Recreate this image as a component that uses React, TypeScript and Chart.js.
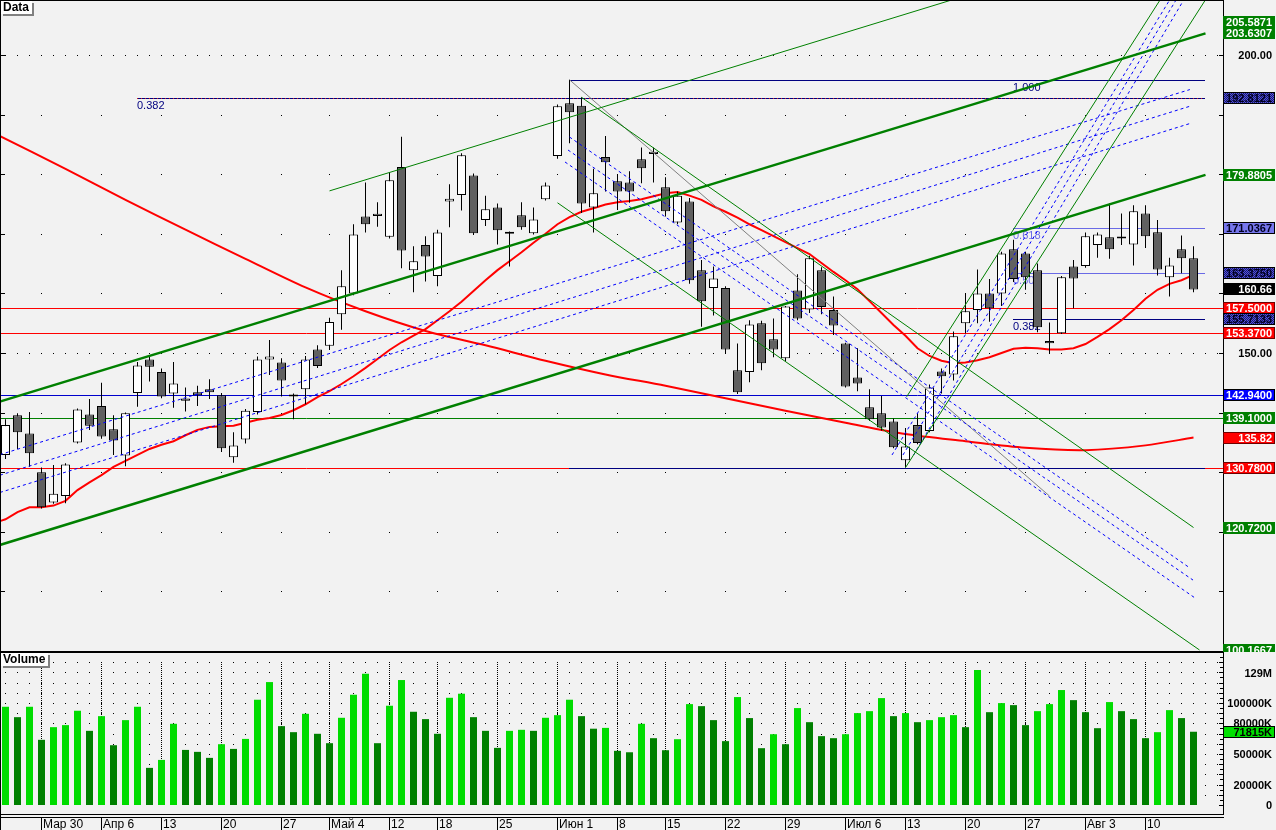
import React, { useEffect, useRef } from "react";
import { Chart, registerables } from "chart.js";
Chart.register(...registerables);

// ---------------- DATA ----------------
const OPEN = [132.9,139.55,136.5,130.0,124.9,126.0,135.0,139.7,141.1,137.2,132.8,143.3,148.9,146.8,143.2,142.0,143.4,143.9,142.9,132.5,135.5,140.1,148.9,148.4,142.7,143.9,150.6,151.2,156.5,160.0,172.9,173.0,169.5,181.2,163.9,168.1,162.9,175.4,176.5,179.8,172.3,174.4,170.35,173.1,170.1,175.8,183.05,191.9,191.5,174.4,182.9,178.8,178.6,182.5,183.4,177.8,171.9,175.4,163.9,160.9,160.9,147.1,146.8,155.0,152.3,149.1,160.5,157.3,163.9,157.2,151.6,145.9,140.9,139.9,138.5,132.0,137.9,136.9,146.9,146.4,155.0,157.2,160.0,160.0,167.4,166.7,163.9,152.0,153.3,164.5,164.6,168.1,169.4,169.2,168.2,173.4,170.25,162.7,167.4,165.9];
const HIGH = [138.9,139.9,140.1,130.8,131.2,131.5,140.7,142.3,145.0,139.55,140.0,148.5,149.5,147.4,148.5,144.2,144.5,145.6,143.3,136.7,140.6,149.4,152.2,149.1,143.2,149.5,151.3,155.9,163.9,171.6,178.6,175.3,180.3,186.3,167.9,169.6,170.7,178.3,183.5,180.1,176.4,175.1,170.4,175.3,174.4,178.6,191.7,195.84,192.9,180.9,186.4,180.0,180.5,184.5,184.5,179.5,177.1,176.0,165.6,164.5,161.2,151.6,155.5,155.4,155.8,157.9,163.2,166.3,164.4,159.5,151.7,150.8,143.9,142.8,139.0,137.4,139.9,144.7,147.4,153.6,160.0,164.0,162.4,167.0,169.0,167.0,165.0,155.1,162.9,165.6,170.2,170.2,175.1,173.4,174.8,174.8,172.3,166.0,169.7,167.9];
const LOW = [132.2,133.9,130.9,123.9,124.7,124.8,134.8,137.1,135.6,132.9,131.0,141.0,145.2,142.4,140.8,140.2,141.1,142.3,133.4,131.6,134.8,139.7,146.3,142.7,138.9,141.4,147.5,150.5,153.9,159.7,170.2,171.2,169.2,164.2,160.2,162.0,161.2,171.1,173.9,169.8,171.3,168.2,164.5,170.7,169.9,175.6,182.6,185.2,173.5,170.2,177.1,174.0,175.2,178.5,178.6,172.9,171.6,161.6,154.4,156.3,149.9,143.1,145.1,147.1,149.3,148.6,155.5,156.7,156.5,153.0,144.2,143.6,138.6,137.0,134.0,130.78,134.7,136.7,143.2,145.4,153.3,155.0,155.25,157.9,161.9,160.6,153.5,149.95,153.2,157.5,164.3,166.0,165.8,168.1,164.7,167.6,163.0,159.5,163.4,160.2];
const CLOSE = [137.9,136.7,133.2,124.1,126.4,131.3,140.5,137.8,136.0,135.3,139.9,147.9,147.7,142.7,144.9,142.35,142.9,143.4,134.0,134.5,140.3,148.9,149.4,145.4,143.05,148.9,147.8,155.2,161.2,169.9,171.6,173.35,179.0,167.2,165.4,166.2,170.2,175.9,183.2,170.1,174.1,170.6,170.0,171.1,172.4,178.1,191.4,190.4,175.1,176.8,182.0,177.1,177.1,181.0,183.75,173.8,176.4,162.2,158.7,162.5,150.6,143.4,154.8,148.3,150.6,157.8,155.8,165.9,157.7,154.6,144.4,144.9,138.9,137.5,134.2,134.3,134.9,144.2,146.1,152.8,157.0,160.0,157.5,166.7,162.4,162.7,154.3,151.65,162.7,162.5,169.6,169.9,167.4,169.55,173.8,169.6,164.0,164.7,165.9,160.66];
const VOLUME_M = [96.3,86.1,96.3,63.9,76.3,78.3,92.4,72.7,87.1,58.6,83.2,96.3,36.4,44.2,79.6,54.0,52.1,46.2,59.6,55.0,64.8,103.2,120.5,77.3,71.4,89.4,69.8,60.6,85.5,108.1,128.7,60.6,97.3,122.5,91.4,84.2,69.8,105.1,109.1,86.1,72.7,56.0,72.7,73.7,72.7,85.5,88.1,103.2,87.1,74.8,75.6,53.1,51.7,79.6,65.5,53.7,64.5,98.9,96.9,83.2,62.6,105.8,85.2,55.7,69.4,59.6,95.0,81.2,67.5,65.5,69.4,90.1,92.0,104.8,87.1,90.1,81.2,83.2,86.1,88.1,76.3,132.3,91.0,99.9,97.9,78.3,92.0,98.9,112.7,102.8,91.0,75.3,100.9,92.0,84.2,65.5,71.4,93.0,85.2,71.815];
// moving averages (value at each bar; the fast one also has a value at the left edge)
const FAST_MA_EDGE = 121.8;
const FAST_MA = [122.1,123.3,124.1,124.1,124.4,125.2,127.0,128.3,129.5,130.9,131.9,132.9,133.9,134.6,135.2,136.2,137.1,137.6,137.7,137.8,138.3,138.8,139.1,139.6,140.4,141.4,142.6,143.6,144.8,146.1,147.5,149.0,150.5,151.8,152.9,154.0,155.5,157.0,158.6,160.4,162.2,163.9,165.4,166.9,168.5,170.0,171.6,172.8,173.7,174.3,174.9,175.3,175.5,175.8,176.3,176.8,177.0,176.4,175.7,174.6,173.7,172.7,171.6,170.6,169.6,168.6,167.6,166.6,165.1,163.6,162.2,160.7,158.7,156.7,154.7,152.9,150.8,149.5,148.7,148.3,148.4,148.8,149.3,150.0,150.7,150.9,150.8,150.6,150.6,150.8,151.5,152.7,154.0,155.5,157.2,159.1,160.6,161.6,162.2,163.1];
const SLOW_MA_IDX = [-0.46,5,10,15,20,25,30,35,40,45,50,55,60,65,70,75,80,85,90,95,99];
const SLOW_MA = [186.4,180.9,175.7,170.7,165.8,161.0,157.0,153.7,151.3,148.7,146.4,144.5,142.4,140.3,138.3,136.4,135.2,134.1,133.7,134.5,135.82];

const WEEK_IDX = [3,8,13,18,23,27,32,36,41,46,51,55,60,65,70,75,80,85,90,95];
const WEEK_LABELS = ["Мар 30","Апр 6","13","20","27","Май 4","12","18","25","Июн 1","8","15","22","29","Июл 6","13","20","27","Авг 3","10"];
const PRICE_GRID = [110,120,130,140,150,160,170,180,190,200];
const PRICE_LABEL_VALUES = [150,200];
const PRICE_LABEL_TEXT = ["150.00","200.00"];
const VOL_GRID = [10,20,30,40,50,60,70,80,90,100,110,120,130,140];
const VOL_LABEL_VALUES = [129,100,80,50,20,0];
const VOL_LABEL_TEXT = ["129M","100000K","80000K","50000K","20000K","0"];
const VOL_LAST = 71.815;
const VOL_LAST_TEXT = "71815K";

// trend lines: [index0, price0, index1, price1]
const GREEN_THICK = [[-0.46,117.8,100,179.88],[-0.46,141.85,100,203.63]];
const GREEN_THIN = [[27,177.2,100,222.3],[48,192.9,99,120.72],[46,175.2,99.5,100.17],[75.1,142.67,97.09,212],[75,130.78,100.87,212]];
const BLUE_DASHED = [[-0.46,132.95,98.7,194.2],[-0.46,129.5,98.7,191.4],[-0.46,126.6,98.7,188.5],[47,186.24,98.7,113.93],[46.875,184.06,98.96,111.9],[46.625,182.05,99.125,108.9],[73.875,132.89,97.85,212],[74.79,132.89,98.37,212],[75.675,132.89,99.0,212]];
const GRAY_THIN = [[47,195.84,87,126.0]];

// horizontal levels
const H_LEVELS = [157.5,153.37,142.94,139.1,130.78];
const H_COLORS = ["#ff0000","#ff0000","#0000cc","#008000","#ff0000"];
const FIB_LEVELS = [195.84,192.8121,171.0367,163.375,155.7133,130.78];
const FIB_FROM = [47,11,84,84,84,47];
const FIB_TEXT_AT = [84,11,84,84,84,84];
const FIB_TO = 100;
const FIB_TEXT = ["1.000","0.382","0.618","0.500","0.382",""];
const FIB_COLORS = ["#000080","#000080","#6a6ae6","#6a6ae6","#000080","#000080"];

// right-side value boxes
const BOX_VALUES = [205.5871,203.6307,192.8121,179.8805,171.0367,163.375,160.66,157.5,155.7133,153.37,142.94,139.1,135.82,130.78,120.72,100.1667];
const BOX_TEXT = ["205.5871","203.6307","192.8121","179.8805","171.0367","163.3750","160.66","157.5000","155.7133","153.3700","142.9400","139.1000","135.82","130.7800","120.7200","100.1667"];
const BOX_KIND = ["green","green","pat","green","slate","pat","black","red","pat","red","blue","green","red","red","green","green"];

// ---------------- LAYOUT CONSTANTS ----------------
const X_MIN = -0.375;
const X_MAX = 101.4583;
const P_MIN = 100.0;
const P_MAX = 209.06;
const V_MIN = -8.82;
const V_MAX = 149.0;
const AXIS_X = 1223;
const FONT_B = 'bold 11px "Liberation Sans", Arial, sans-serif';
const FONT_T = 'bold 12px "Liberation Sans", Arial, sans-serif';
const FONT_R = '11px "Liberation Sans", Arial, sans-serif';
const FONT_D = '12px "Liberation Sans", Arial, sans-serif';

function seg(s: number[], color: string, width: number, dash: number[] = []) {
  return {
    type: "line",
    data: [{ x: s[0], y: s[1] }, { x: s[2], y: s[3] }],
    borderColor: color,
    borderWidth: width,
    borderDash: dash,
    pointRadius: 0,
    fill: false,
    tension: 0,
    order: 0,
  };
}

let patCache: any = null;
function bluePattern(ctx: CanvasRenderingContext2D) {
  if (patCache) return patCache;
  const c = document.createElement("canvas");
  c.width = 2; c.height = 2;
  const g = c.getContext("2d")!;
  g.fillStyle = "#5252e0"; g.fillRect(0, 0, 2, 2);
  g.fillStyle = "#1c1c6a"; g.fillRect(0, 0, 1, 1); g.fillRect(1, 1, 1, 1);
  patCache = ctx.createPattern(c, "repeat");
  return patCache;
}

function labelBox(ctx: CanvasRenderingContext2D, yc: number, text: string, fill: any, color: string, border: string | null) {
  const top = Math.round(yc) - 6;
  ctx.fillStyle = fill;
  ctx.fillRect(AXIS_X, top, 52, 12);
  if (border) {
    ctx.strokeStyle = border; ctx.lineWidth = 1;
    ctx.strokeRect(AXIS_X + 0.5, top + 0.5, 51, 11);
  }
  ctx.fillStyle = color; ctx.font = FONT_B; ctx.textAlign = "right"; ctx.textBaseline = "middle";
  ctx.fillText(text, 1272, top + 6.5);
}

function tagBox(ctx: CanvasRenderingContext2D, x: number, y: number, text: string) {
  ctx.font = FONT_T;
  const w = Math.ceil(ctx.measureText(text).width) + 4;
  ctx.fillStyle = "#808080"; ctx.fillRect(x + 2, y + 2, w, 13);
  ctx.fillStyle = "#ffffff"; ctx.fillRect(x, y, w, 13);
  ctx.fillStyle = "#000"; ctx.textAlign = "left"; ctx.textBaseline = "middle";
  ctx.fillText(text, x + 2, y + 7);
}

const pricePlugin = {
  id: "pricePane",
  beforeDraw(chart: any) {
    const ctx = chart.ctx;
    ctx.save(); ctx.fillStyle = "#f2f2f2"; ctx.fillRect(0, 0, chart.width, chart.height); ctx.restore();
  },
  beforeDatasetsDraw(chart: any) {
    const ctx = chart.ctx; const xs = chart.scales.x; const ys = chart.scales.y;
    ctx.save();
    ctx.fillStyle = "#000";
    PRICE_GRID.forEach((v) => {
      const y = Math.round(ys.getPixelForValue(v));
      if (PRICE_LABEL_VALUES.includes(v)) {
        for (let i = 0; i <= 101; i++) ctx.fillRect(Math.floor(xs.getPixelForValue(i)), y, 1, 1);
      } else {
        WEEK_IDX.forEach((i) => ctx.fillRect(Math.floor(xs.getPixelForValue(i)), y, 1, 1));
      }
      ctx.fillRect(1, y, 4, 1);
      ctx.fillRect(AXIS_X - 4, y, 4, 1);
    });
    const x0 = xs.getPixelForValue(X_MIN), x1 = xs.getPixelForValue(X_MAX);
    H_LEVELS.forEach((v, k) => {
      const y = Math.round(ys.getPixelForValue(v)) + 0.5;
      ctx.strokeStyle = H_COLORS[k]; ctx.lineWidth = 1; ctx.setLineDash([]);
      ctx.beginPath(); ctx.moveTo(x0, y); ctx.lineTo(x1, y); ctx.stroke();
    });
    FIB_LEVELS.forEach((v, k) => {
      const y = Math.round(ys.getPixelForValue(v)) + 0.5;
      const a = Math.floor(xs.getPixelForValue(FIB_FROM[k])), b = Math.floor(xs.getPixelForValue(FIB_TO));
      ctx.lineWidth = 1; ctx.setLineDash([]);
      ctx.strokeStyle = FIB_COLORS[k];
      ctx.beginPath(); ctx.moveTo(a, y); ctx.lineTo(b, y); ctx.stroke();
      if (k === 1) {
        ctx.fillStyle = "#d02020";
        for (let x = a; x < b; x += 4) ctx.fillRect(x, y - 0.5, 1, 1);
      }
      if (FIB_TEXT[k]) {
        const tx = Math.floor(xs.getPixelForValue(FIB_TEXT_AT[k]));
        ctx.fillStyle = FIB_COLORS[k]; ctx.font = FONT_R; ctx.textAlign = "left"; ctx.textBaseline = "top";
        ctx.fillText(FIB_TEXT[k], tx, y + 1.5);
      }
    });
    ctx.restore();
  },
  afterDraw(chart: any) {
    const ctx = chart.ctx; const ys = chart.scales.y;
    ctx.save();
    ctx.fillStyle = "#000";
    ctx.fillRect(0, 0, AXIS_X, 1);
    ctx.fillRect(0, 0, 1, chart.height);
    ctx.fillRect(AXIS_X, 0, 1, chart.height);
    ctx.fillRect(0, chart.height - 1, AXIS_X + 1, 1);
    ctx.font = FONT_B; ctx.textAlign = "right"; ctx.textBaseline = "middle"; ctx.fillStyle = "#000";
    PRICE_LABEL_VALUES.forEach((v, k) => ctx.fillText(PRICE_LABEL_TEXT[k], 1272, Math.round(ys.getPixelForValue(v)) + 0.5));
    const pat = bluePattern(ctx);
    BOX_VALUES.forEach((v, k) => {
      const y = ys.getPixelForValue(v);
      const kind = BOX_KIND[k];
      if (kind === "green") labelBox(ctx, y, BOX_TEXT[k], "#008000", "#ffffff", null);
      else if (kind === "pat") labelBox(ctx, y, BOX_TEXT[k], pat, "#000020", "#000000");
      else if (kind === "slate") labelBox(ctx, y, BOX_TEXT[k], "#7676ec", "#000020", "#000000");
      else if (kind === "black") labelBox(ctx, y, BOX_TEXT[k], "#000000", "#ffffff", null);
      else if (kind === "red") labelBox(ctx, y, BOX_TEXT[k], "#ff0000", "#ffffff", "#700000");
      else if (kind === "blue") labelBox(ctx, y, BOX_TEXT[k], "#0000ff", "#ffffff", "#000000");
    });
    tagBox(ctx, 1, 1, "Data");
    ctx.restore();
  },
};

const volPlugin = {
  id: "volPane",
  beforeDraw(chart: any) {
    const ctx = chart.ctx;
    ctx.save(); ctx.fillStyle = "#f2f2f2"; ctx.fillRect(0, 0, chart.width, chart.height); ctx.restore();
  },
  beforeDatasetsDraw(chart: any) {
    const ctx = chart.ctx; const xs = chart.scales.x; const ys = chart.scales.y;
    ctx.save(); ctx.fillStyle = "#000";
    VOL_GRID.forEach((v) => {
      const y = Math.round(ys.getPixelForValue(v));
      for (let i = 0; i <= 101; i++) ctx.fillRect(Math.floor(xs.getPixelForValue(i)), y, 1, 1);
    });
    const yTop = Math.round(ys.getPixelForValue(140)), yBot = Math.round(ys.getPixelForValue(0));
    WEEK_IDX.forEach((i) => {
      const x = Math.floor(xs.getPixelForValue(i));
      for (let y = yTop; y < yBot; y += 2) ctx.fillRect(x, y, 1, 1);
    });
    ctx.restore();
  },
  afterDraw(chart: any) {
    const ctx = chart.ctx; const xs = chart.scales.x; const ys = chart.scales.y;
    const bottom = Math.round(chart.chartArea.bottom);
    ctx.save();
    ctx.fillStyle = "#000";
    ctx.fillRect(0, 0, AXIS_X + 1, 1);
    ctx.fillRect(0, 0, 1, chart.height);
    ctx.fillRect(AXIS_X, 0, 1, bottom + 1);
    ctx.fillRect(0, bottom, AXIS_X + 1, 1);
    ctx.fillRect(0, bottom + 3, AXIS_X + 1, 1);
    for (let v = 0; v <= 145; v += 5) {
      const y = Math.round(ys.getPixelForValue(v));
      ctx.fillRect(AXIS_X - (v % 10 === 0 ? 4 : 3), y, v % 10 === 0 ? 4 : 3, 1);
    }
    ctx.font = FONT_B; ctx.textAlign = "right"; ctx.textBaseline = "middle";
    VOL_LABEL_VALUES.forEach((v, k) => ctx.fillText(VOL_LABEL_TEXT[k], 1272, Math.round(ys.getPixelForValue(v)) + 0.5));
    labelBox(ctx, ys.getPixelForValue(VOL_LAST), VOL_LAST_TEXT, "#00e000", "#000000", "#000000");
    ctx.font = FONT_D; ctx.textAlign = "left"; ctx.textBaseline = "alphabetic";
    WEEK_IDX.forEach((i, k) => {
      const x = Math.floor(xs.getPixelForValue(i));
      ctx.fillStyle = "#000";
      ctx.fillRect(x, bottom + 3, 1, chart.height - bottom - 3);
      ctx.fillText(WEEK_LABELS[k], x + 2, chart.height - 2);
    });
    tagBox(ctx, 1, 1, "Volume");
    ctx.restore();
  },
};

export default function App() {
  const priceRef = useRef<HTMLCanvasElement>(null);
  const volRef = useRef<HTMLCanvasElement>(null);

  useEffect(() => {
    const idx = OPEN.map((_, i) => i);
    const wicks = {
      type: "bar",
      data: idx.map((i) => ({ x: i, y: [LOW[i], HIGH[i]] })),
      backgroundColor: "#000000",
      borderWidth: 0,
      barThickness: 1,
      grouped: false,
      inflateAmount: 0,
      order: 2,
    };
    const bodies = {
      type: "bar",
      data: idx.map((i) => ({ x: i, y: [OPEN[i], CLOSE[i]] })),
      backgroundColor: idx.map((i) => (CLOSE[i] >= OPEN[i] ? "#ffffff" : "#606060")),
      borderColor: "#000000",
      borderWidth: 1,
      borderSkipped: false,
      barThickness: 9,
      grouped: false,
      inflateAmount: 0,
      order: 1,
    };
    const fast = {
      type: "line",
      data: [{ x: -0.46, y: FAST_MA_EDGE }, ...idx.map((i) => ({ x: i, y: FAST_MA[i] }))],
      borderColor: "#ff0000", borderWidth: 2, pointRadius: 0, fill: false, tension: 0, order: 3,
    };
    const slow = {
      type: "line",
      data: SLOW_MA_IDX.map((i, k) => ({ x: i, y: SLOW_MA[k] })),
      borderColor: "#ff0000", borderWidth: 2, pointRadius: 0, fill: false, tension: 0.3, order: 3,
    };
    const trend = [
      ...GREEN_THICK.map((s) => seg(s, "#008000", 2.5)),
      ...GREEN_THIN.map((s) => seg(s, "#008000", 1)),
      ...BLUE_DASHED.map((s) => seg(s, "#0000ff", 1, [3, 3])),
      ...GRAY_THIN.map((s) => seg(s, "#808080", 1)),
    ];

    const priceChart = new Chart(priceRef.current as HTMLCanvasElement, {
      type: "bar",
      data: { datasets: [...trend, bodies, wicks, fast, slow] as any },
      options: {
        responsive: false,
        animation: false,
        devicePixelRatio: 1,
        events: [],
        layout: { padding: { left: 1, right: 53, top: 1, bottom: 1 } },
        plugins: { legend: { display: false }, tooltip: { enabled: false } },
        scales: {
          x: { type: "linear", min: X_MIN, max: X_MAX, display: false, offset: false },
          y: { type: "linear", min: P_MIN, max: P_MAX, display: false },
        },
      } as any,
      plugins: [pricePlugin],
    });

    const volColors = VOLUME_M.map((v, i) => (i === 0 || v > VOLUME_M[i - 1] ? "#00dc00" : "#008000"));
    const volChart = new Chart(volRef.current as HTMLCanvasElement, {
      type: "bar",
      data: {
        datasets: [
          {
            data: VOLUME_M.map((v, i) => ({ x: i, y: v })),
            backgroundColor: volColors,
            borderWidth: 0,
            barThickness: 7,
            grouped: false,
            inflateAmount: 0,
          } as any,
        ],
      },
      options: {
        responsive: false,
        animation: false,
        devicePixelRatio: 1,
        events: [],
        layout: { padding: { left: 1, right: 53, top: 1, bottom: 16 } },
        plugins: { legend: { display: false }, tooltip: { enabled: false } },
        scales: {
          x: { type: "linear", min: X_MIN, max: X_MAX, display: false, offset: false },
          y: { type: "linear", min: V_MIN, max: V_MAX, display: false },
        },
      } as any,
      plugins: [volPlugin],
    });

    return () => {
      priceChart.destroy();
      volChart.destroy();
    };
  }, []);

  return (
    <div style={{ position: "fixed", left: 0, top: 0, width: 1276, height: 830, background: "#f2f2f2", overflow: "hidden" }}>
      <canvas ref={priceRef} width={1276} height={652} style={{ position: "absolute", left: 0, top: 0, width: 1276, height: 652 }} />
      <canvas ref={volRef} width={1276} height={178} style={{ position: "absolute", left: 0, top: 652, width: 1276, height: 178 }} />
    </div>
  );
}
